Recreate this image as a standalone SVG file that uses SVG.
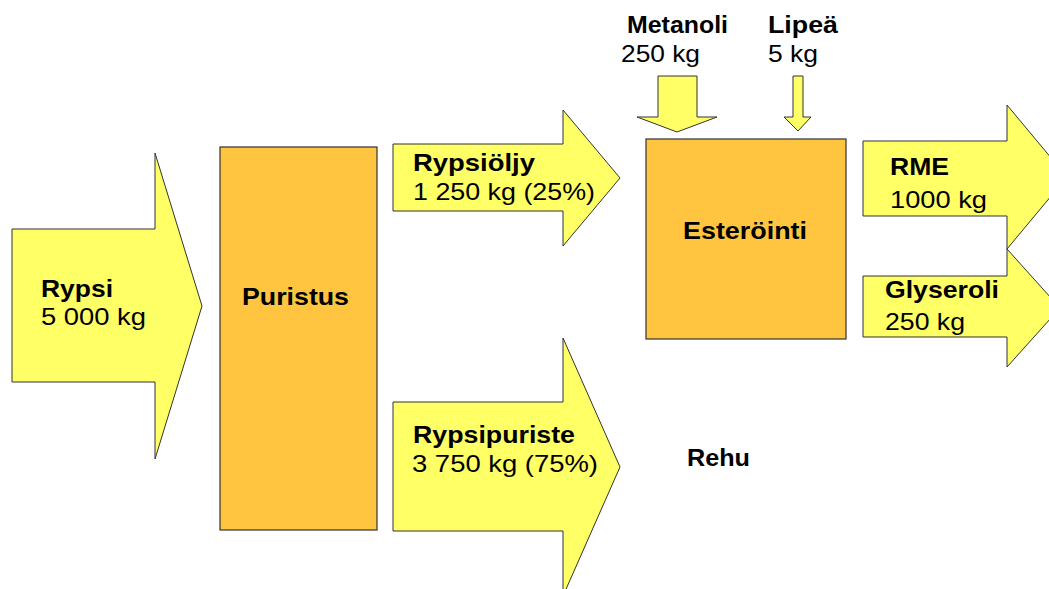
<svg xmlns="http://www.w3.org/2000/svg" width="1049" height="589" viewBox="0 0 1049 589">
<style>
.arr{fill:#FFFF66;stroke:#333333;stroke-width:1;stroke-linejoin:miter}
.box{fill:#FFC440;stroke:#333333;stroke-width:1.2}
text{font-family:"Liberation Sans",Arial,sans-serif;font-size:24px;fill:#000}
.b{font-weight:bold}
</style>
<rect width="1049" height="589" fill="#ffffff"/>
<g id="flows">
  <g id="rypsi">
    <path class="arr" d="M12,229 H155 V153 L202,306 L155,459 V382 H12 Z"/>
    <text class="b" x="41" y="297" textLength="72" lengthAdjust="spacingAndGlyphs">Rypsi</text>
    <text x="41" y="325" textLength="105" lengthAdjust="spacingAndGlyphs">5 000 kg</text>
  </g>
  <g id="rypsioljy">
    <path class="arr" d="M393,144 H563 V110 L620,178 L563,246 V211 H393 Z"/>
    <text class="b" x="413" y="171" textLength="122" lengthAdjust="spacingAndGlyphs">Rypsiöljy</text>
    <text x="413" y="200" textLength="182" lengthAdjust="spacingAndGlyphs">1 250 kg (25%)</text>
  </g>
  <g id="rypsipuriste">
    <path class="arr" d="M393,402 H563 V338 L620,467 L563,596 V531 H393 Z"/>
    <text class="b" x="413" y="443" textLength="162" lengthAdjust="spacingAndGlyphs">Rypsipuriste</text>
    <text x="412" y="472" textLength="186" lengthAdjust="spacingAndGlyphs">3 750 kg (75%)</text>
  </g>
  <g id="metanoli">
    <path class="arr" d="M658,76 H697 V117 H717 L677,132 L637,117 H658 Z"/>
    <text class="b" x="627" y="33" textLength="101" lengthAdjust="spacingAndGlyphs">Metanoli</text>
    <text x="621" y="62" textLength="79" lengthAdjust="spacingAndGlyphs">250 kg</text>
  </g>
  <g id="lipea">
    <path class="arr" d="M793,76 H803 V117 H811 L798,131 L784,117 H793 Z"/>
    <text class="b" x="768" y="33" textLength="70" lengthAdjust="spacingAndGlyphs">Lipeä</text>
    <text x="768" y="62" textLength="50" lengthAdjust="spacingAndGlyphs">5 kg</text>
  </g>
  <g id="rme">
    <path class="arr" d="M863,141 H1007 V105 L1067,177 L1007,249 V216 H863 Z"/>
    <text class="b" x="890" y="175" textLength="59" lengthAdjust="spacingAndGlyphs">RME</text>
    <text x="890" y="208" textLength="97" lengthAdjust="spacingAndGlyphs">1000 kg</text>
  </g>
  <g id="glyseroli">
    <path class="arr" d="M863,276 H1007 V249 L1060,308 L1007,367 V337 H863 Z"/>
    <text class="b" x="885" y="298" textLength="114" lengthAdjust="spacingAndGlyphs">Glyseroli</text>
    <text x="885" y="330" textLength="80" lengthAdjust="spacingAndGlyphs">250 kg</text>
  </g>
</g>
<g id="puristus">
  <rect class="box" x="220" y="147" width="157" height="383"/>
  <text class="b" x="242" y="305" textLength="107" lengthAdjust="spacingAndGlyphs">Puristus</text>
</g>
<g id="esterointi">
  <rect class="box" x="646" y="139" width="200" height="200"/>
  <text class="b" x="683" y="239" textLength="124" lengthAdjust="spacingAndGlyphs">Esteröinti</text>
</g>
<g id="rehu">
  <text class="b" x="687" y="466" textLength="63" lengthAdjust="spacingAndGlyphs">Rehu</text>
</g>
</svg>
